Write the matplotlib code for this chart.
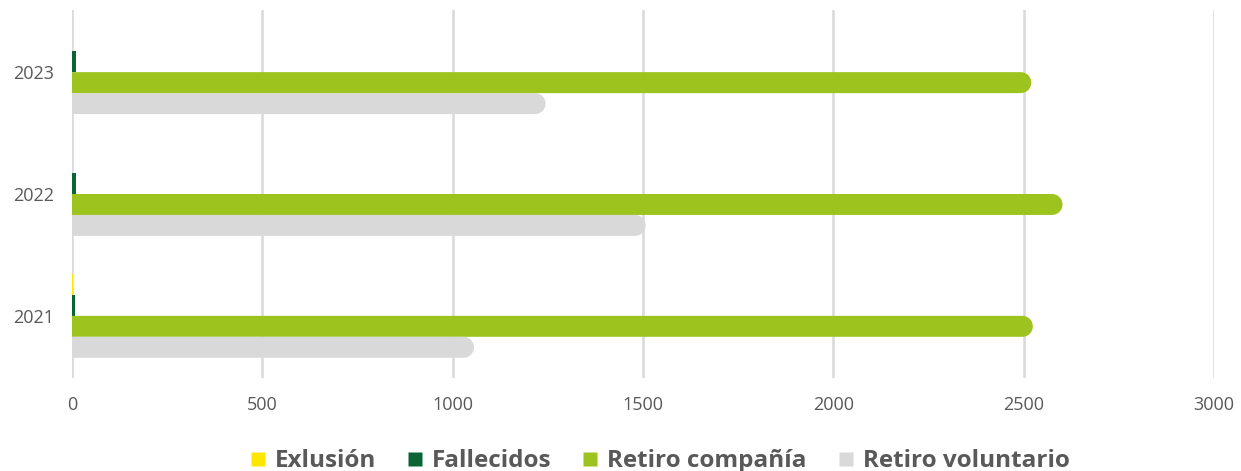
import matplotlib
matplotlib.use("Agg")
import numpy as np
import matplotlib.pyplot as plt
from matplotlib.patches import Polygon, Rectangle
from matplotlib.lines import Line2D

years = ["2021", "2022", "2023"]
series_names = ["Exlusión", "Fallecidos", "Retiro compañía", "Retiro voluntario"]
exlusion = [2, 0, 0]
fallecidos = [8, 10, 10]
retiro_compania = [2524, 2602, 2520]
retiro_voluntario = [1056, 1507, 1244]
colors = ["#FFE600", "#0B6434", "#9DC41E", "#D9D9D9"]
xticks = [0, 500, 1000, 1500, 2000, 2500, 3000]

plt.rcParams['font.family'] = ['Open Sans', 'DejaVu Sans']

W, H = 1241, 471
fig = plt.figure(figsize=(W / 100, H / 100), dpi=100)
left, right, top, bottom = 72, 1214, 10, 378
ax = fig.add_axes([left / W, 1 - bottom / H, (right - left) / W, (bottom - top) / H])

xmin, xmax = 0, 3000
ymin, ymax = -0.51, 2.51
ax.set_xlim(xmin, xmax)
ax.set_ylim(ymin, ymax)

px_per_x = (right - left) / (xmax - xmin)
px_per_y = (bottom - top) / (ymax - ymin)

h = 0.172
offsets = [1.5 * h, 0.5 * h, -0.5 * h, -1.5 * h]
all_series = [exlusion, fallecidos, retiro_compania, retiro_voluntario]
theta = np.linspace(-np.pi / 2, np.pi / 2, 40)

for s, vals in enumerate(all_series):
    for i, v in enumerate(vals):
        yc = i + offsets[s]
        y0 = yc - h / 2
        r_px = h * px_per_y / 2
        r_x = r_px / px_per_x
        if v > 2 * r_x:
            xs = [0, v - r_x] + list(v - r_x + r_x * np.cos(theta)) + [v - r_x, 0]
            ys = [y0, y0] + list(yc + (h / 2) * np.sin(theta)) + [y0 + h, y0 + h]
            ax.add_patch(Polygon(np.column_stack([xs, ys]), closed=True,
                                 facecolor=colors[s], edgecolor="none", zorder=3))
        elif v > 0:
            ax.add_patch(Rectangle((0, y0), v, h, facecolor=colors[s],
                                   edgecolor="none", zorder=3))

ax.set_xticks(xticks)
ax.set_xticklabels([str(t) for t in xticks])
ax.set_yticks(range(len(years)))
ax.set_yticklabels(years)
ax.tick_params(axis='both', length=0, labelsize=13, colors="#595959")
ax.tick_params(axis='x', pad=13)
ax.tick_params(axis='y', pad=13)
ax.grid(axis='x', color="#D9D9D9", linewidth=1.8, zorder=0)
ax.set_axisbelow(True)
for sp in ax.spines.values():
    sp.set_visible(False)

handles = [Line2D([0], [0], marker='s', linestyle='none', markersize=10,
                  markerfacecolor=c, markeredgecolor='none') for c in colors]
leg = fig.legend(handles, series_names, loc='center', bbox_to_anchor=(0.529, 0.021),
                 ncol=4, frameon=False, handletextpad=0.1, columnspacing=1.0,
                 handlelength=1.2, prop={'weight': 'bold', 'size': 17.5})
for t in leg.get_texts():
    t.set_color("#595959")

fig.savefig("out.png", dpi=100)
